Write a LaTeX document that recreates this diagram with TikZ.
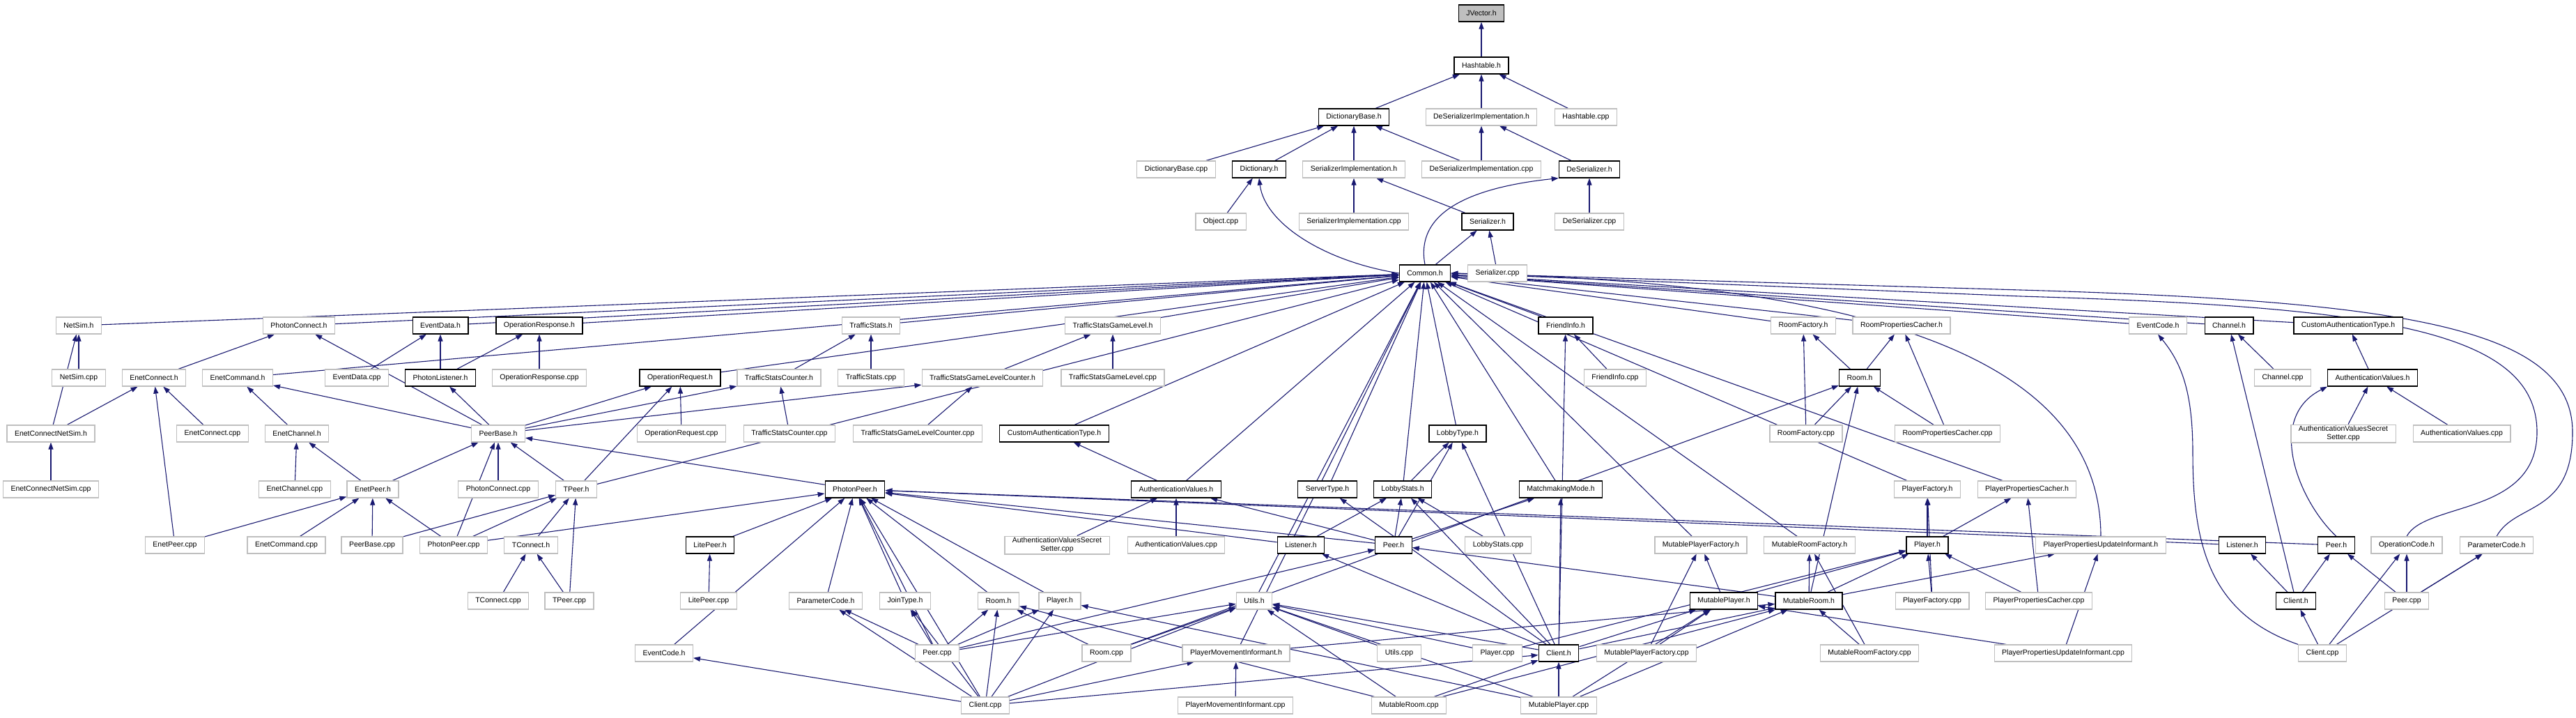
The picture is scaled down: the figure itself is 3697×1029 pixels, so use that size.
\documentclass[tikz,border=0pt]{standalone}
\usepackage{fontspec}
\setmainfont{Liberation Sans}
\usetikzlibrary{arrows.meta, backgrounds}
\definecolor{edgeblue}{HTML}{191970}
\definecolor{boxgray}{HTML}{BFBFBF}
\tikzset{
  file/.style={draw, line width=1.2pt, fill=white, font=\fontsize{10.5}{12}\selectfont,
    inner xsep=11pt, inner ysep=2pt, minimum height=24pt, align=center},
  nodoc/.style={file, draw=boxgray},
  doc/.style={file, draw=black},
  root/.style={file, draw=black, fill=boxgray},
  inc/.style={->, draw=edgeblue, line width=1.1pt},
}

\begin{document}
\begin{tikzpicture}[x=1pt, y=-1pt, >={Triangle[length=10pt,width=7pt]}]
\useasboundingbox (0,0) rectangle (3697,1029);
% Common library
\node[root] (jvec) at (2126,19) {JVector.h};
\node[doc] (hash) at (2126,94) {Hashtable.h};
\node[doc] (dictb) at (1943,168) {DictionaryBase.h};
\node[nodoc] (desih) at (2126,168) {DeSerializerImplementation.h};
\node[nodoc] (hashcpp) at (2276,168) {Hashtable.cpp};
\node[nodoc] (dictbcpp) at (1688,243) {DictionaryBase.cpp};
\node[doc] (dict) at (1807,243) {Dictionary.h};
\node[nodoc] (serih) at (1943,243) {SerializerImplementation.h};
\node[nodoc] (desicpp) at (2126,243) {DeSerializerImplementation.cpp};
\node[doc] (deser) at (2281,243) {DeSerializer.h};
\node[nodoc] (objcpp) at (1752,318) {Object.cpp};
\node[nodoc] (sericpp) at (1943,318) {SerializerImplementation.cpp};
\node[doc] (ser) at (2135,318) {Serializer.h};
\node[nodoc] (desercpp) at (2281,318) {DeSerializer.cpp};
\node[doc] (common) at (2045,392) {Common.h};
\node[nodoc] (sercpp) at (2149,392) {Serializer.cpp};
% row 467
\node[nodoc] (netsim) at (113,467) {NetSim.h};
\node[nodoc] (pconn) at (429,467) {PhotonConnect.h};
\node[doc] (evdata) at (632,467) {EventData.h};
\node[doc] (opresp) at (774,467) {OperationResponse.h};
\node[nodoc] (tstats) at (1250,467) {TrafficStats.h};
\node[nodoc] (tsgl) at (1597,467) {TrafficStatsGameLevel.h};
\node[doc] (finfo) at (2247,467) {FriendInfo.h};
\node[nodoc] (rfact) at (2588,467) {RoomFactory.h};
\node[nodoc] (rpc) at (2729,467) {RoomPropertiesCacher.h};
\node[nodoc] (evcodeR) at (3097,467) {EventCode.h};
\node[doc] (chan) at (3199,467) {Channel.h};
\node[doc] (cauthR) at (3370,467) {CustomAuthenticationType.h};
% row 542
\node[nodoc] (netsimcpp) at (113,542) {NetSim.cpp};
\node[nodoc] (econn) at (221,542) {EnetConnect.h};
\node[nodoc] (ecmd) at (341,542) {EnetCommand.h};
\node[nodoc] (evdatacpp) at (512,542) {EventData.cpp};
\node[doc] (plist) at (632,542) {PhotonListener.h};
\node[nodoc] (oprespcpp) at (774,542) {OperationResponse.cpp};
\node[doc] (opreq) at (976,542) {OperationRequest.h};
\node[nodoc] (tsc) at (1118,542) {TrafficStatsCounter.h};
\node[nodoc] (tstatscpp) at (1250,542) {TrafficStats.cpp};
\node[nodoc] (tsglc) at (1410,542) {TrafficStatsGameLevelCounter.h};
\node[nodoc] (tsglcpp) at (1597,542) {TrafficStatsGameLevel.cpp};
\node[nodoc] (finfocpp) at (2318,542) {FriendInfo.cpp};
\node[doc] (roomR) at (2669,542) {Room.h};
\node[nodoc] (chancpp) at (3276,542) {Channel.cpp};
\node[doc] (avalsR) at (3405,542) {AuthenticationValues.h};
% row 622
\node[nodoc] (ecnsh) at (73,622) {EnetConnectNetSim.h};
\node[nodoc] (econncpp) at (305,622) {EnetConnect.cpp};
\node[nodoc] (echan) at (426,622) {EnetChannel.h};
\node[nodoc] (pbase) at (715,622) {PeerBase.h};
\node[nodoc] (opreqcpp) at (978,622) {OperationRequest.cpp};
\node[nodoc] (tsccpp) at (1133,622) {TrafficStatsCounter.cpp};
\node[nodoc] (tsglccpp) at (1317,622) {TrafficStatsGameLevelCounter.cpp};
\node[doc] (cauthM) at (1513,622) {CustomAuthenticationType.h};
\node[doc] (lobbytype) at (2092,622) {LobbyType.h};
\node[nodoc] (rfactcpp) at (2592,622) {RoomFactory.cpp};
\node[nodoc] (rpccpp) at (2795,622) {RoomPropertiesCacher.cpp};
\node[nodoc] (avssR) at (3363,622) {AuthenticationValuesSecret\\Setter.cpp};
\node[nodoc] (avalscppR) at (3533,622) {AuthenticationValues.cpp};
% row 702
\node[nodoc] (ecnscpp) at (73,702) {EnetConnectNetSim.cpp};
\node[nodoc] (echancpp) at (423,702) {EnetChannel.cpp};
\node[nodoc] (epeer) at (535,702) {EnetPeer.h};
\node[nodoc] (pconncpp) at (715,702) {PhotonConnect.cpp};
\node[nodoc] (tpeer) at (827,702) {TPeer.h};
\node[doc] (ppeer) at (1227,702) {PhotonPeer.h};
\node[doc] (avalsM) at (1688,702) {AuthenticationValues.h};
\node[doc] (stype) at (1905,702) {ServerType.h};
\node[doc] (lstats) at (2013,702) {LobbyStats.h};
\node[doc] (mmode) at (2240,702) {MatchmakingMode.h};
\node[nodoc] (pfact) at (2766,702) {PlayerFactory.h};
\node[nodoc] (ppch) at (2909,702) {PlayerPropertiesCacher.h};
% row 782
\node[nodoc] (epeercpp) at (251,782) {EnetPeer.cpp};
\node[nodoc] (ecmdcpp) at (411,782) {EnetCommand.cpp};
\node[nodoc] (pbasecpp) at (534,782) {PeerBase.cpp};
\node[nodoc] (ppeercpp) at (651,782) {PhotonPeer.cpp};
\node[nodoc] (tconn) at (762,782) {TConnect.h};
\node[doc] (lpeer) at (1019,782) {LitePeer.h};
\node[nodoc] (avssM) at (1517,782) {AuthenticationValuesSecret\\Setter.cpp};
\node[nodoc] (avalscppM) at (1688,782) {AuthenticationValues.cpp};
\node[doc] (listM) at (1867,782) {Listener.h};
\node[doc] (peerM) at (2000,782) {Peer.h};
\node[nodoc] (lstatscpp) at (2150,782) {LobbyStats.cpp};
\node[nodoc] (mpfact) at (2441,782) {MutablePlayerFactory.h};
\node[nodoc] (mrfact) at (2597,782) {MutableRoomFactory.h};
\node[doc] (playerR) at (2766,782) {Player.h};
\node[nodoc] (ppuih) at (3015,782) {PlayerPropertiesUpdateInformant.h};
\node[doc] (listR) at (3218,782) {Listener.h};
\node[doc] (peerR) at (3353,782) {Peer.h};
\node[nodoc] (opcode) at (3454,782) {OperationCode.h};
\node[nodoc] (pcodeR) at (3583,782) {ParameterCode.h};
% row 862
\node[nodoc] (tconncpp) at (715,862) {TConnect.cpp};
\node[nodoc] (tpeercpp) at (817,862) {TPeer.cpp};
\node[nodoc] (lpeercpp) at (1017,862) {LitePeer.cpp};
\node[nodoc] (pcodeM) at (1185,862) {ParameterCode.h};
\node[nodoc] (jtype) at (1299,862) {JoinType.h};
\node[nodoc] (roomM) at (1433,862) {Room.h};
\node[nodoc] (playerM) at (1521,862) {Player.h};
\node[nodoc] (utils) at (1800,862) {Utils.h};
\node[doc] (mplayer) at (2474,862) {MutablePlayer.h};
\node[doc] (mroom) at (2596,862) {MutableRoom.h};
\node[nodoc] (pfactcpp) at (2773,862) {PlayerFactory.cpp};
\node[nodoc] (ppccpp) at (2926,862) {PlayerPropertiesCacher.cpp};
\node[doc] (clientR) at (3295,862) {Client.h};
\node[nodoc] (peercppR) at (3454,862) {Peer.cpp};
% row 937
\node[nodoc] (evcodeM) at (953,937) {EventCode.h};
\node[nodoc] (peercppM) at (1345,937) {Peer.cpp};
\node[nodoc] (roomcpp) at (1588,937) {Room.cpp};
\node[nodoc] (pmih) at (1774,937) {PlayerMovementInformant.h};
\node[nodoc] (utilscpp) at (2008,937) {Utils.cpp};
\node[nodoc] (playercpp) at (2149,937) {Player.cpp};
\node[doc] (clientM) at (2237,937) {Client.h};
\node[nodoc] (mpfactcpp) at (2363,937) {MutablePlayerFactory.cpp};
\node[nodoc] (mrfactcpp) at (2683,937) {MutableRoomFactory.cpp};
\node[nodoc] (ppuicpp) at (2961,937) {PlayerPropertiesUpdateInformant.cpp};
\node[nodoc] (clientcppR) at (3333,937) {Client.cpp};
% row 1012
\node[nodoc] (clientcppM) at (1414,1012) {Client.cpp};
\node[nodoc] (pmicpp) at (1773,1012) {PlayerMovementInformant.cpp};
\node[nodoc] (mroomcpp) at (2022,1012) {MutableRoom.cpp};
\node[nodoc] (mplayercpp) at (2237,1012) {MutablePlayer.cpp};

\begin{scope}[on background layer]
% includes, arrow at the included file
\foreach \a/\b in {hash/jvec, dictb/hash, desih/hash, hashcpp/hash, dictbcpp/dictb, dict/dictb,
    serih/dictb, desicpp/dictb, desicpp/desih, deser/desih, objcpp/dict,
    sericpp/serih, ser/serih, desercpp/deser, common/ser, sercpp/ser}
  \draw[inc] (\a) -- (\b);
\draw[inc] (common.west) .. controls (1900,375) and (1815,320) .. (dict.south);
\draw[inc] (common.north) .. controls (2030,300) and (2120,268) .. (deser.south west);
\foreach \a in {netsim, pconn, ecmd, evdata, opresp, tpeer, opreq, tstats, tsgl, cauthM, avalsM,
    pmih, utils, stype, lstats, lobbytype, mmode, finfo, rfact, rpc, pfact, ppch, mpfact, mrfact,
    evcodeR, chan, cauthR}
  \draw[inc] (\a) -- (common);
\draw[inc] (ppuih.north) .. controls (3015,520) and (2700,405) .. (common.east);
\draw[inc] (opcode.north) .. controls (3480,720) and (3641,740) .. (3641,620)
  .. controls (3641,470) and (3400,440) .. (2900,425) -- (common.east);
\draw[inc] (pcodeR.north) .. controls (3610,720) and (3692,740) .. (3692,620)
  .. controls (3692,470) and (3450,432) .. (2900,416) -- (common.east);
\foreach \a/\b in {netsimcpp/netsim, ecnsh/netsim, ecnsh/econn, ecnscpp/ecnsh, econn/pconn,
    econncpp/econn, epeercpp/econn, echan/ecmd, echancpp/echan, epeer/echan, epeer/pbase,
    pbase/ecmd, pbase/pconn, evdatacpp/evdata, plist/evdata, plist/opresp, oprespcpp/opresp,
    pbase/plist, pbase/opreq, pbase/tsc, pbase/tsglc, opreqcpp/opreq, tpeer/opreq, tpeer/pbase,
    tsc/tstats, tsccpp/tsc, tstatscpp/tstats, tsglc/tsgl, tsglcpp/tsgl, tsglccpp/tsglc,
    pconncpp/pbase, ppeer/pbase, ppeercpp/pbase, epeercpp/epeer, ecmdcpp/epeer, pbasecpp/epeer,
    ppeercpp/epeer, pbasecpp/tpeer, ppeercpp/tpeer, tconn/tpeer, tpeercpp/tpeer,
    tconncpp/tconn, tpeercpp/tconn, ppeercpp/ppeer}
  \draw[inc] (\a) -- (\b);
\foreach \a/\b in {avalsM/cauthM, avssM/avalsM, avalscppM/avalsM, peerM/avalsM, lpeer/ppeer,
    lpeercpp/lpeer, pcodeM/ppeer, jtype/ppeer, roomM/ppeer, playerM/ppeer, evcodeM/ppeer,
    listM/ppeer, peerM/ppeer, listR/ppeer, peerR/ppeer, peercppM/ppeer, clientcppM/ppeer,
    peercppM/pcodeM, peercppM/jtype, peercppM/roomM, peercppM/playerM, peercppM/utils,
    peercppM/peerM, roomcpp/roomM, roomcpp/utils, roomcpp/roomR, clientcppM/pcodeM,
    clientcppM/jtype, clientcppM/roomM, clientcppM/playerM, clientcppM/evcodeM,
    clientcppM/utils, clientcppM/pmih, clientcppM/clientM, pmicpp/pmih, pmih/mroom,
    utilscpp/utils, playercpp/utils, mroomcpp/utils, mplayercpp/utils, clientM/utils}
  \draw[inc] (\a) -- (\b);
\foreach \a/\b in {lstats/lobbytype, lstatscpp/lstats, listM/lstats, peerM/lstats, clientM/lstats,
    peerM/lobbytype, clientM/lobbytype, peerM/mmode, clientM/mmode, clientM/stype,
    clientM/finfo, finfocpp/finfo, clientM/listM, mroom/peerM, roomR/rfact, roomR/rpc,
    rfactcpp/rfact, rfactcpp/roomR, rpccpp/roomR, rpccpp/rpc, playerR/pfact, playerR/ppch,
    pfactcpp/pfact, pfactcpp/playerR, ppccpp/ppch, ppccpp/playerR, mplayer/mpfact,
    mpfactcpp/mpfact, mpfactcpp/mplayer, mroom/mrfact, mrfactcpp/mrfact, mrfactcpp/mroom,
    mplayer/playerR, mroom/playerR, mroom/roomR, playercpp/playerR, clientM/mplayer,
    clientM/mroom, mroomcpp/mroom, mroomcpp/clientM, mroomcpp/roomM, mplayercpp/mplayer,
    mplayercpp/clientM, mplayercpp/mroom, mplayercpp/playerM, mroom/ppuih, ppuicpp/ppuih,
    ppuicpp/mplayer}
  \draw[inc] (\a) -- (\b);
\foreach \a/\b in {chancpp/chan, clientR/chan, avalsR/cauthR, avssR/avalsR, avalscppR/avalsR,
    clientR/listR, clientR/peerR, clientcppR/clientR, clientcppR/opcode, clientcppR/pcodeR,
    peercppR/peerR, peercppR/opcode, peercppR/pcodeR}
  \draw[inc] (\a) -- (\b);
\draw[inc] (peerR.north) .. controls (3300,720) and (3250,600) .. (avalsR.south west);
\draw[inc] (clientcppR.north west) .. controls (3170,880) and (3147,780) .. (3147,650)
  .. controls (3147,560) and (3130,520) .. (evcodeR.south);
\end{scope}
\end{tikzpicture}
\end{document}
